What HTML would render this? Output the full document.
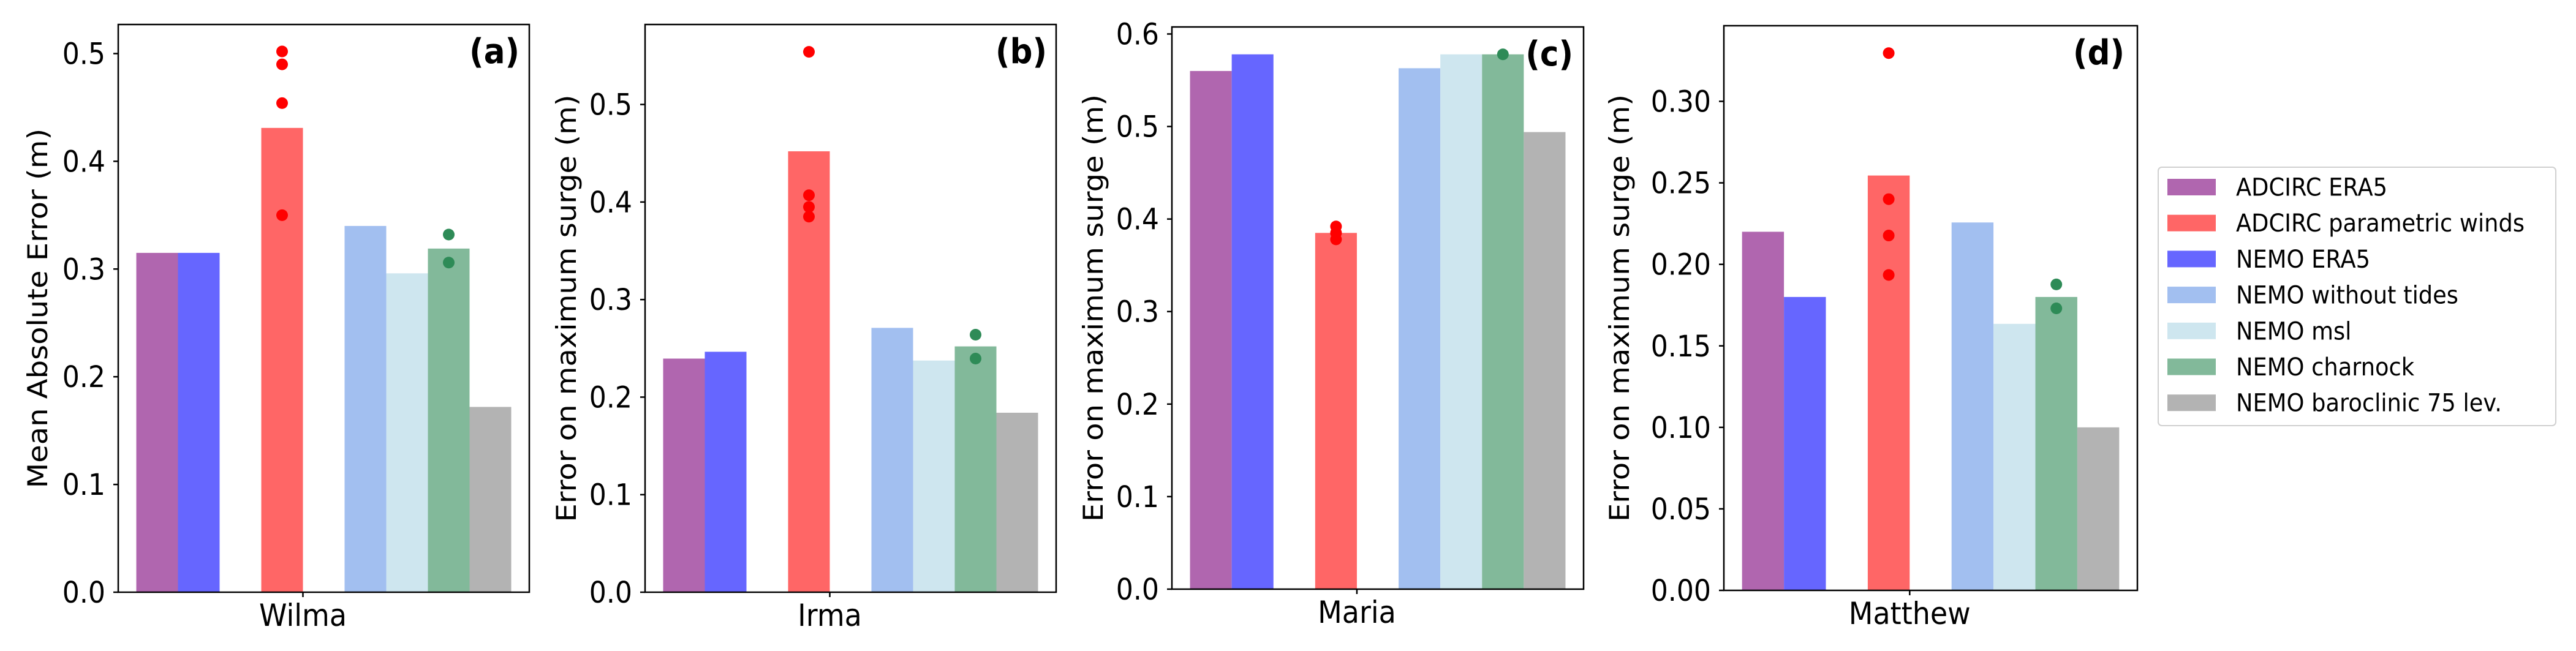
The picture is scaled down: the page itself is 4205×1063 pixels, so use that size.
<!DOCTYPE html>
<html><head><meta charset="utf-8"><style>
html,body{margin:0;padding:0;background:#fff;}
svg{display:block;font-family:"DejaVu Sans","Liberation Sans",sans-serif;}
</style></head><body>
<svg id="fig" width="4205" height="1063" viewBox="0 0 4205 1063" xmlns="http://www.w3.org/2000/svg"></svg>
<script>
// ---- data ----
const storms = ["Wilma", "Irma", "Maria", "Matthew"];
const panelTags = ["(a)", "(b)", "(c)", "(d)"];
const yTitles = ["Mean Absolute Error (m)", "Error on maximum surge (m)", "Error on maximum surge (m)", "Error on maximum surge (m)"];
const seriesNames = ["ADCIRC ERA5", "ADCIRC parametric winds", "NEMO ERA5", "NEMO without tides", "NEMO msl", "NEMO charnock", "NEMO baroclinic 75 lev."];
const seriesColors = ["#b066af", "#ff6666", "#6666ff", "#a2bff0", "#cee6ef", "#82b99a", "#b3b3b3"];
// slot order within a group (0..8)
const seriesSlots = [0, 3, 1, 5, 6, 7, 8];
const valuesWilma = [0.315, 0.431, 0.315, 0.340, 0.296, 0.319, 0.172];
const valuesIrma = [0.2395, 0.452, 0.2465, 0.271, 0.2375, 0.252, 0.184];
const valuesMaria = [0.560, 0.385, 0.578, 0.563, 0.578, 0.578, 0.494];
const valuesMatthew = [0.220, 0.2545, 0.180, 0.2257, 0.1635, 0.180, 0.100];
const redDotsWilma = [0.502, 0.490, 0.454, 0.350];
const redDotsIrma = [0.554, 0.407, 0.395, 0.385];
const redDotsMaria = [0.392, 0.385, 0.378];
const redDotsMatthew = [0.3296, 0.240, 0.2177, 0.1935];
const greenDotsWilma = [0.332, 0.306];
const greenDotsIrma = [0.264, 0.2395];
const greenDotsMaria = [0.578];
const greenDotsMatthew = [0.1877, 0.173];
const yMaxes = [0.527, 0.582, 0.6076, 0.3464];
const ticksA = ["0.0", "0.1", "0.2", "0.3", "0.4", "0.5"];
const ticksB = ["0.0", "0.1", "0.2", "0.3", "0.4", "0.5"];
const ticksC = ["0.0", "0.1", "0.2", "0.3", "0.4", "0.5", "0.6"];
const ticksD = ["0.00", "0.05", "0.10", "0.15", "0.20", "0.25", "0.30"];

const allValues = [valuesWilma, valuesIrma, valuesMaria, valuesMatthew];
const allRed = [redDotsWilma, redDotsIrma, redDotsMaria, redDotsMatthew];
const allGreen = [greenDotsWilma, greenDotsIrma, greenDotsMaria, greenDotsMatthew];
const allTicks = [ticksA, ticksB, ticksC, ticksD];

// ---- layout ----
const boxes = [
  {l:193, r:864, t:40, b:967, yl:60, tagR:848},
  {l:1053, r:1724, t:40, b:967, yl:923, tagR:1709},
  {l:1913, r:2585, t:44, b:962, yl:1783, tagR:2568},
  {l:2814, r:3489, t:42, b:964, yl:2642, tagR:3468}
];
const NS = "http://www.w3.org/2000/svg";
const svg = document.getElementById("fig");
const SX = 0.92;
function mk(tag, attrs, parent) {
  const e = document.createElementNS(NS, tag);
  for (const k in attrs) e.setAttribute(k, attrs[k]);
  (parent || svg).appendChild(e);
  return e;
}
function txt(parent, s, x, y, size, anchor, extra) {
  const t = mk("text", Object.assign({transform:`translate(${x},${y}) scale(${SX},1)`, x:0, y:0, "font-size":size, "text-anchor":anchor, fill:"#000"}, extra || {}), parent);
  t.textContent = s;
  return t;
}

boxes.forEach((bx, p) => {
  const g = mk("g", {});
  
  
  const W = bx.r - bx.l;
  const slot = W * 68 / 671;
  const margin = (W - 9 * slot) / 2;
  const x0 = bx.l + margin;
  const yScale = v => bx.b - v / yMaxes[p] * (bx.b - bx.t);
  const xSlot = s => x0 + s * slot;

  allValues[p].forEach((v, i) => {
    const r = mk("rect", {x:xSlot(seriesSlots[i]), y:yScale(v), width:slot, height:bx.b - yScale(v), fill:seriesColors[i]}, g);
    
    
  });
  const cxRed = xSlot(seriesSlots[1]) + slot / 2;
  allRed[p].forEach((v) => {
    const c = mk("circle", {cx:cxRed, cy:yScale(v), r:9.5, fill:"#ff0000"}, g);
    
    
  });
  const cxGreen = xSlot(seriesSlots[5]) + slot / 2;
  allGreen[p].forEach((v) => {
    const c = mk("circle", {cx:cxGreen, cy:yScale(v), r:9.5, fill:"#2e8b57"}, g);
    
    
  });
  const fr = mk("rect", {x:bx.l, y:bx.t, width:W, height:bx.b - bx.t, fill:"none", stroke:"#000", "stroke-width":2.5}, g);
  
  
  const tl = allTicks[p];
  tl.forEach((lab) => {
    const v = parseFloat(lab);
    const y = yScale(v);
    mk("line", {x1:bx.l - 8, x2:bx.l, y1:y, y2:y, stroke:"#000", "stroke-width":2.5}, g);
    const t = txt(g, lab, bx.l - 21, y + 17, 48, "end");
    
    
  });
  const xt = x0 + 4 * slot;
  mk("line", {x1:xt, x2:xt, y1:bx.b, y2:bx.b + 8, stroke:"#000", "stroke-width":2.5}, g);
  const xl = txt(g, storms[p], xt, bx.b + 55, 50, "middle");
  
  
  const yt = mk("text", {transform:`translate(${bx.yl + 17},${(bx.t + bx.b) / 2}) rotate(-90) scale(1,${SX})`, x:0, y:0, "font-size":48, "text-anchor":"middle", fill:"#000"}, g);
  yt.textContent = yTitles[p];
  
  
  const tg = txt(g, panelTags[p], bx.tagR, bx.t + 63, 56, "end", {"font-weight":"bold"});
  
  
});

// legend
const lg = mk("g", {});


mk("rect", {x:3523, y:273, width:649, height:422, rx:6, fill:"#fff", stroke:"#d0d0d0", "stroke-width":2}, lg);
seriesNames.forEach((name, i) => {
  const cy = 305.5 + i * 58.7;
  const e = mk("g", {}, lg);
  
  
  mk("rect", {x:3538, y:cy - 13.5, width:79, height:27, fill:seriesColors[i]}, e);
  txt(e, name, 3650, cy + 14, 40, "start");
});
</script>
</body></html>
